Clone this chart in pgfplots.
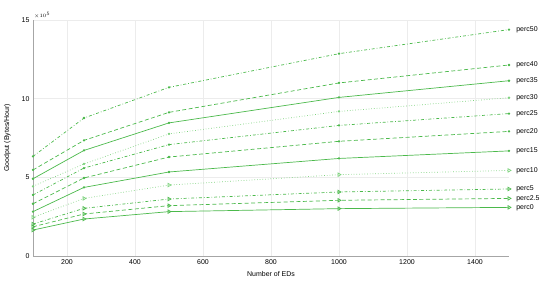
\documentclass[border=0pt]{standalone}
\usepackage{pgfplots}
\pgfplotsset{compat=1.18}
\usepackage{fontspec}
\setmainfont{Liberation Sans}
\definecolor{gdark}{RGB}{75,185,75}
\definecolor{glight}{RGB}{125,210,125}
\tikzset{lbl/.style={anchor=west, font=\fontsize{7}{8}\selectfont, inner sep=1pt, xshift=6bp, black}}
\begin{document}
\begin{tikzpicture}[x=1bp,y=1bp]
  \path[use as bounding box] (0,0) rectangle (550bp,281bp);
  \begin{axis}[
      at={(33bp,25bp)}, anchor=south west,
      scale only axis,
      width=476bp, height=236bp,
      xmin=100, xmax=1500,
      ymin=0, ymax=15,
      xtick={200,400,...,1400},
      ytick={0,5,10,15},
      /pgf/number format/1000 sep={},
      grid=major,
      grid style={gray!15, line width=0.4pt},
      axis lines*=left,
      axis line style={gray!70, line width=0.5pt},
      tick style={draw=none},
      font=\fontsize{7}{8}\selectfont,
      ticklabel style={font=\fontsize{7}{8}\selectfont},
      /pgf/number format/assume math mode=true,
      xlabel={Number of EDs},
      ylabel={Goodput (Bytes/Hour)},
      every axis y label/.style={at={(axis description cs:0,0.5)}, rotate=90, anchor=south, yshift=19bp},
      xlabel style={yshift=0pt},
      clip=false,
      every axis plot/.append style={line width=0.7pt},
    ]
    \node[anchor=south west, font=\fontsize{5.5}{6}\selectfont, inner sep=1pt] at (rel axis cs:0,1) {$\times10^{5}$};
    % upper group, small marks
    \addplot[gdark, dash dot, mark=*, mark size=0.8pt, mark options={solid}] coordinates {(100,6.33) (250,8.77) (500,10.72) (1000,12.86) (1500,14.39)} node[lbl, pos=1] {perc50};
    \addplot[gdark, dash pattern=on 4pt off 2.5pt, mark=*, mark size=0.8pt, mark options={solid}] coordinates {(100,5.47) (250,7.35) (500,9.13) (1000,11.00) (1500,12.14)} node[lbl, pos=1] {perc40};
    \addplot[gdark, solid, mark=*, mark size=0.8pt] coordinates {(100,4.91) (250,6.71) (500,8.46) (1000,10.08) (1500,11.14)} node[lbl, pos=1] {perc35};
    \addplot[glight, dotted, mark=*, mark size=0.8pt, mark options={solid}] coordinates {(100,4.43) (250,5.85) (500,7.76) (1000,9.19) (1500,10.06)} node[lbl, pos=1] {perc30};
    \addplot[gdark, dash dot, mark=*, mark size=0.8pt, mark options={solid}] coordinates {(100,3.88) (250,5.59) (500,7.08) (1000,8.30) (1500,9.05)} node[lbl, pos=1] {perc25};
    \addplot[gdark, dash pattern=on 4pt off 2.5pt, mark=*, mark size=0.8pt, mark options={solid}] coordinates {(100,3.32) (250,4.96) (500,6.29) (1000,7.29) (1500,7.92)} node[lbl, pos=1] {perc20};
    \addplot[gdark, solid, mark=*, mark size=0.8pt] coordinates {(100,2.82) (250,4.36) (500,5.34) (1000,6.20) (1500,6.68)} node[lbl, pos=1] {perc15};
    % lower group, triangle marks
    \addplot[glight, dotted, mark=triangle, mark size=2pt, mark options={solid, rotate=-90}] coordinates {(100,2.46) (250,3.66) (500,4.51) (1000,5.17) (1500,5.44)} node[lbl, pos=1] {perc10};
    \addplot[gdark, dash dot, mark=triangle, mark size=2pt, mark options={solid, rotate=-90}] coordinates {(100,2.03) (250,3.03) (500,3.62) (1000,4.07) (1500,4.26)} node[lbl, pos=1] {perc5};
    \addplot[gdark, dash pattern=on 4pt off 2.5pt, mark=triangle, mark size=2pt, mark options={solid, rotate=-90}] coordinates {(100,1.86) (250,2.67) (500,3.20) (1000,3.54) (1500,3.66)} node[lbl, pos=1] {perc2.5};
    \addplot[gdark, solid, mark=triangle, mark size=2pt, mark options={solid, rotate=-90}] coordinates {(100,1.65) (250,2.35) (500,2.82) (1000,3.01) (1500,3.09)} node[lbl, pos=1] {perc0};
  \end{axis}
\end{tikzpicture}
\end{document}
